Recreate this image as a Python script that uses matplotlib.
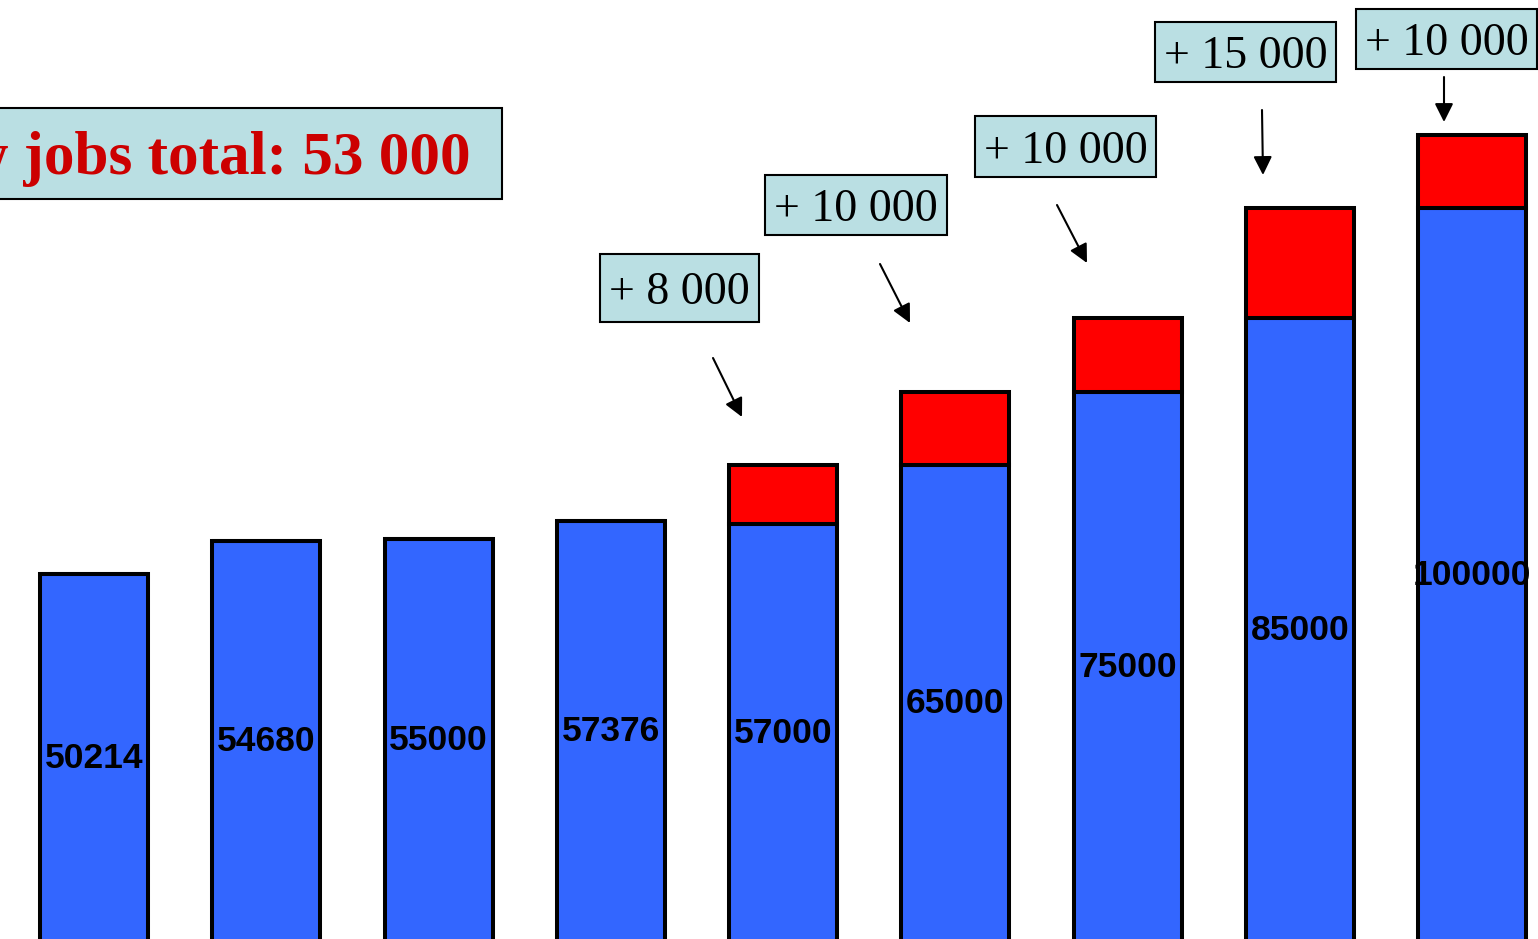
import matplotlib.pyplot as plt
from matplotlib.patches import Rectangle

# bar values (blue) and the extra jobs stacked on top (red)
base = [50214, 54680, 55000, 57376, 57000, 65000, 75000, 85000, 100000]
added = [0, 0, 0, 0, 8000, 10000, 10000, 15000, 10000]
added_labels = ["+ 8 000", "+ 10 000", "+ 10 000", "+ 15 000", "+ 10 000"]
title_text = "New jobs total: 53 000"

W, H = 1538, 939
fig = plt.figure(figsize=(W / 100, H / 100), dpi=100)
ax = fig.add_axes([0, 0, 1, 1])

x = list(range(len(base)))
ax.bar(x, base, width=0.627, color="#3366FF", edgecolor="black", linewidth=2.9)
ax.bar(x, added, bottom=base, width=0.627, color="#FF0000", edgecolor="black",
       linewidth=2.9)
for i in x:
    ax.text(i, base[i] / 2, str(base[i]), ha="center", va="center",
            fontsize=25.5, fontweight="bold", family="Liberation Sans", color="black")

ax.set_xlim(-0.546, 8.383)
ax.set_ylim(450, 128379)
ax.axis("off")


def fx(px):
    return px / W


def fy(py):
    return 1 - py / H


def box(x0, y0, x1, y1):
    fig.add_artist(Rectangle((fx(x0), fy(y1)), fx(x1) - fx(x0), fy(y0) - fy(y1),
                             transform=fig.transFigure, facecolor="#BADFE3",
                             edgecolor="black", linewidth=1.5))


# title box
box(-20, 108, 502, 199)
fig.text(fx(471), fy(159), title_text, ha="right", va="center", fontsize=44,
         fontweight="bold", family="Liberation Serif", color="#CC0000")

# increment boxes and arrows
boxes = [(600, 254, 759, 322), (765, 175, 947, 235), (975, 116, 1156, 177),
         (1155, 22, 1336, 82), (1356, 9, 1537, 69)]
arrows = [((713, 358), (742, 417)), ((880, 264), (910, 323)),
          ((1057, 205), (1087, 263)), ((1262, 110), (1263, 175)),
          ((1444, 77), (1444, 122))]
for lab, (x0, y0, x1, y1), (a, b) in zip(added_labels, boxes, arrows):
    box(x0, y0, x1, y1)
    fig.text(fx((x0 + x1) / 2), fy((y0 + y1) / 2 + 5), lab, ha="center",
             va="center", fontsize=33, family="Liberation Serif", color="black")
    ax.annotate("", xy=(fx(b[0]), fy(b[1])), xytext=(fx(a[0]), fy(a[1])),
                xycoords="figure fraction", textcoords="figure fraction",
                arrowprops=dict(arrowstyle="-|>", color="black", lw=1.5,
                                mutation_scale=28, shrinkA=0, shrinkB=0))

fig.savefig("out.png", dpi=100)
